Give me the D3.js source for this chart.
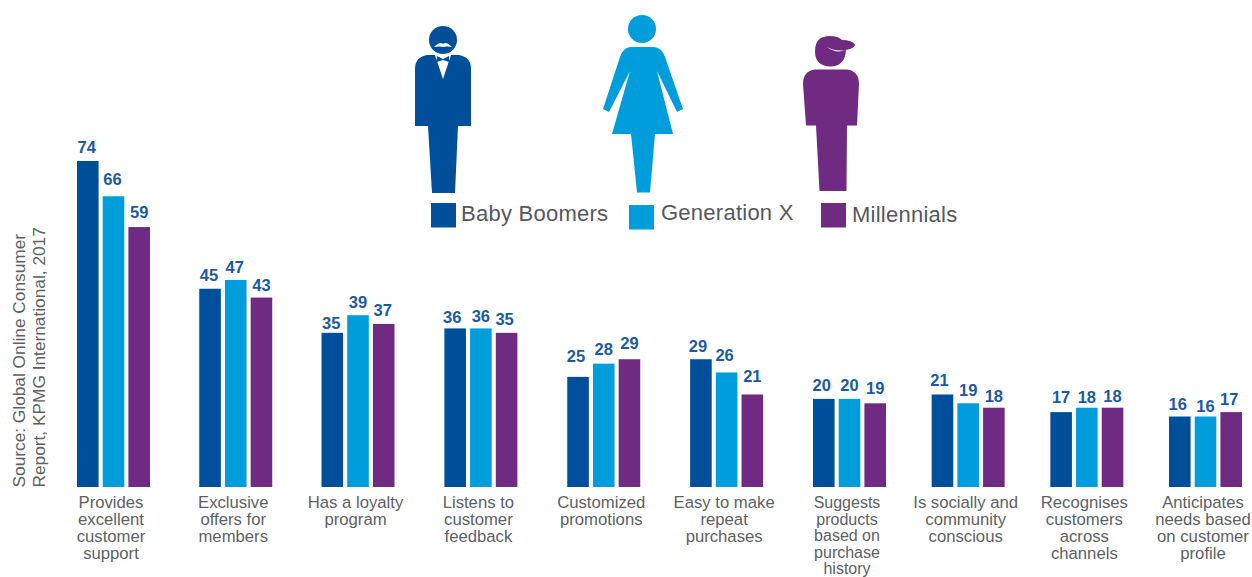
<!DOCTYPE html>
<html><head><meta charset="utf-8">
<script src="https://cdnjs.cloudflare.com/ajax/libs/d3/7.8.5/d3.min.js"></script>
<style>html,body{margin:0;padding:0;background:#fff}svg{display:block}text{font-family:"Liberation Sans",Arial,sans-serif}</style>
</head><body><svg id="c" width="1252" height="577"></svg>
<script>
const categories=[["Provides","excellent","customer","support"],["Exclusive","offers for","members"],["Has a loyalty","program"],["Listens to","customer","feedback"],["Customized","promotions"],["Easy to make","repeat","purchases"],["Suggests","products","based on","purchase","history"],["Is socially and","community","conscious"],["Recognises","customers","across","channels"],["Anticipates","needs based","on customer","profile"]];
const seriesNames=["Baby Boomers","Generation X","Millennials"];
const babyBoomers=[74,45,35,36,25,29,20,21,17,16];
const generationX=[66,47,39,36,28,26,20,19,18,16];
const millennials=[59,43,37,35,29,21,19,18,18,17];
const colors=["#004f9b","#009ddc","#6f2a82"];
const source=["Source: Global Online Consumer","Report, KPMG International, 2017"];
// hand-placed value labels in the original: gap above the bar and sideways nudge
const labelGapBoomers=[8,8,4,5,15,7,8,8,9,7];
const labelGapGenX=[11,7,7,6,9,11,8,7,5,5];
const labelGapMillennials=[9,7,8,8,10,12,9,6,6,7];
const labelNudgeBoomers=[-1,-1,-1,-3,-2,-3,-2,-3,0,-2];
const labelNudgeGenX=[-1,-1,0,0,0,-2,0,0,0,0];
const labelNudgeMillennials=[0,0,-1,-2,0,0,0,0,0,-2];

const svg=d3.select("#c");
const y=d3.scaleLinear().domain([0,74]).range([487,161]);
const x0=d3.scaleLinear().domain([0,2,6,9]).range([77,321.5,813,1169]);
const x1=d3.scaleBand().domain([0,1,2]).range([0,73]).paddingInner(0.16).paddingOuter(0);
const series=[babyBoomers,generationX,millennials];
const gaps=[labelGapBoomers,labelGapGenX,labelGapMillennials];
const nudges=[labelNudgeBoomers,labelNudgeGenX,labelNudgeMillennials];
series.forEach((vals,s)=>{
  const g=svg.append("g");
  g.selectAll("rect").data(vals).join("rect")
   .attr("x",(d,i)=>x0(i)+x1(s)).attr("y",d=>y(d)).attr("width",x1.bandwidth()).attr("height",d=>y(0)-y(d)).attr("fill",colors[s]);
  g.selectAll("text").data(vals).join("text")
   .attr("x",(d,i)=>x0(i)+x1(s)+x1.bandwidth()/2+nudges[s][i]).attr("y",(d,i)=>y(d)-gaps[s][i]).attr("text-anchor","middle")
   .attr("font-size",16.5).attr("font-weight","bold").attr("fill","#1a5aa5").text(d=>d);
});
categories.forEach((lines,i)=>{
  const tall=lines.length>4;
  const t=svg.append("text").attr("text-anchor","middle").attr("font-size",tall?16:16.7).attr("fill","#5c5f63");
  lines.forEach((l,k)=>t.append("tspan").attr("x",x0(i)+34).attr("y",508.4+k*(tall?16.4:17)).text(l));
});
source.forEach((l,k)=>svg.append("text").attr("transform",`translate(${25+k*19.5},487.5) rotate(-90)`).attr("font-size",17.3).attr("fill","#5c5f63").text(l));
// legend
const legend=[[431,203,461,220.7],[629,205,661,220],[821,203,852,221.5]];
seriesNames.forEach((n,i)=>{
  const [a,b,c,d]=legend[i];
  svg.append("rect").attr("x",a).attr("y",b).attr("width",25).attr("height",24.5).attr("fill",colors[i]);
  svg.append("text").attr("x",c).attr("y",d).attr("font-size",22).attr("letter-spacing",0.25).attr("fill","#55585c").text(n);
});
// man
const m=svg.append("g").attr("fill",colors[0]);
m.append("circle").attr("cx",443).attr("cy",40).attr("r",14);
m.append("path").attr("d","M427 55H459Q471 57 471 69V126H458L455 193H432L428 126H415V69Q415 57 427 55Z");
svg.append("path").attr("d","M435 55H451L443 79Z").attr("fill","#fff");
svg.append("path").attr("d","M437 56L443 59L449 56V62L443 60L437 62Z").attr("fill",colors[0]);
svg.append("path").attr("d","M434 47Q440 41 443 44Q446 41 452 47Q446 46 443 47Q440 46 434 47Z").attr("fill","#fff");
// woman
const w=svg.append("g").attr("fill",colors[1]);
w.append("circle").attr("cx",642).attr("cy",29).attr("r",14);
w.append("path").attr("d","M630 47H654Q662 48 665 57L683 109L677 112L657 71L673 134H655L650 192.5H637L631 134H612L630 71L609 112L603 109L620 57Q623 48 630 47Z");
// millennial
const p=svg.append("g").attr("fill",colors[2]);
p.append("path").attr("d","M830 36Q838 36 842 40Q852 40 855 44.5Q855 48 846 50Q845 66.5 830 66.5Q815 66 815 51Q815 36 830 36Z");
svg.append("path").attr("d","M827 47Q836 52 846 50Q836 54 827 47Z").attr("fill","#fff");
p.append("path").attr("d","M815 69.5H847Q859 71 859 84L857 125.5H847L846.5 191H819.5L816 125.5H806L803 84Q803 71 815 69.5Z");
</script></body></html>
